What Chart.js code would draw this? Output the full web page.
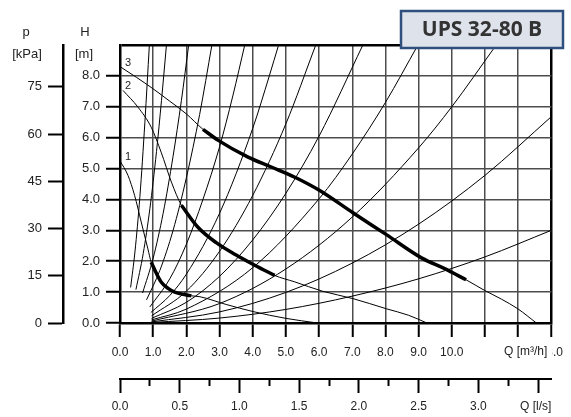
<!DOCTYPE html>
<html>
<head>
<meta charset="utf-8">
<script src="https://cdn.jsdelivr.net/npm/chart.js@4.4.1/dist/chart.umd.min.js"></script>
<style>
  html, body { margin: 0; padding: 0; background: #fff; }
</style>
</head>
<body>
<canvas id="pump" width="571" height="417"></canvas>
<script>
(function() {
  "use strict";

  // axis ticks
  const flowTicks = [0, 1, 2, 3, 4, 5, 6, 7, 8, 9, 10, 11, 12, 13];      // m3/h
  const headTicks = [0, 1, 2, 3, 4, 5, 6, 7, 8, 9];                      // m
  const kpaTicks = [0, 15, 30, 45, 60, 75];                              // kPa
  const lpsTicks = [0, 0.25, 0.5, 0.75, 1, 1.25, 1.5, 1.75, 2, 2.25, 2.5,
                    2.75, 3, 3.25, 3.5];                                 // l/s

  // pump curves, speed 1..3 : [Q m3/h, H m]
  const speed1 = [[0, 5.25], [0.24, 4.78], [0.44, 4.13], [0.64, 3.27], [0.84, 2.4], [0.94, 1.97],
                  [1.1, 1.6], [1.24, 1.33], [1.45, 1.12], [1.65, 1.0], [2.05, 0.9], [2.15, 0.88],
                  [2.41, 0.85], [3.2, 0.6], [4.01, 0.37], [5.0, 0.15], [5.95, 0]];
  const speed1Bold = [[0.94, 1.97], [1.1, 1.6], [1.24, 1.33], [1.45, 1.12], [1.65, 1.0], [2.05, 0.9], [2.15, 0.88]];

  const speed2 = [[0.09, 7.53], [0.54, 6.99], [0.94, 6.34], [1.24, 5.53], [1.55, 4.56], [1.85, 3.81],
                  [2.35, 3.1], [2.9, 2.6], [3.5, 2.2], [4.06, 1.87], [4.66, 1.54], [5.27, 1.33],
                  [6.1, 1.03], [7.02, 0.79], [8.03, 0.46], [8.7, 0.25], [9.25, 0]];
  const speed2Bold = [[1.85, 3.81], [2.35, 3.1], [2.9, 2.6], [3.5, 2.2], [4.06, 1.87], [4.66, 1.54]];

  const speed3 = [[0, 8.3], [0.5, 7.95], [1.0, 7.58], [1.5, 7.18], [2.0, 6.77], [2.5, 6.27],
                  [2.95, 5.92], [3.86, 5.37], [4.56, 5.05], [5.27, 4.72], [6.02, 4.29], [7.02, 3.57],
                  [8.03, 2.86], [9.1, 2.1], [9.8, 1.75], [10.43, 1.4], [10.98, 1.06], [11.5, 0.77],
                  [11.99, 0.46], [12.55, 0]];
  const speed3Bold = [[2.5, 6.27], [2.95, 5.92], [3.86, 5.37], [4.56, 5.05], [5.27, 4.72], [6.02, 4.29],
                      [7.02, 3.57], [8.03, 2.86], [9.1, 2.1], [9.8, 1.75], [10.43, 1.4]];

  // system curves fanning out from low flow
  const fanA = [[0.32, 1.15], [0.45, 2.3], [0.6, 4.1], [0.75, 6.5], [0.885, 9]];
  const fanB = [[0.48, 1.08], [0.7, 2.25], [0.9, 3.7], [1.1, 5.55], [1.25, 7.2], [1.4, 9]];
  const fanC = [[0.68, 0.97], [1.0, 2.1], [1.3, 3.55], [1.6, 5.4], [1.85, 7.2], [2.07, 9]];
  const fanD = [[0.8, 0.75], [1.2, 1.7], [1.6, 3.0], [2.0, 4.7], [2.4, 6.75], [2.77, 9]];
  const fanE = [[0.9, 0.52], [1.5, 1.43], [2.0, 2.55], [2.5, 4.0], [3.0, 5.7], [3.4, 7.35], [3.76, 9]];
  const fanF = [[0.93, 0.34], [1.5, 0.89], [2.0, 1.58], [3.0, 3.55], [4.0, 6.3], [4.5, 8.0], [4.78, 9]];
  const fanG = [[0.95, 0.23], [2.0, 1.03], [3.0, 2.32], [4.0, 4.13], [5.0, 6.45], [5.9, 9]];
  const fanH = [[0.95, 0.15], [2.0, 0.67], [3.0, 1.51], [4.0, 2.69], [5.0, 4.2], [6.0, 6.05], [7.32, 9]];
  const fanI = [[0.95, 0.1], [2.0, 0.45], [4.0, 1.79], [6.0, 4.02], [7.0, 5.47], [8.0, 7.14], [8.98, 9]];
  const fanJ = [[0.95, 0.06], [3.0, 0.63], [5.0, 1.75], [7.0, 3.43], [9.0, 5.67], [10.0, 7.0], [11.3, 8.94]];
  const fanK = [[0.95, 0.035], [3.0, 0.36], [5.0, 0.99], [7.0, 1.94], [9.0, 3.2], [11.0, 4.78], [13.0, 6.68]];
  const fanL = [[0.95, 0.016], [3.0, 0.16], [5.0, 0.44], [7.0, 0.87], [9.0, 1.43], [11.0, 2.14], [13.0, 3.0]];
  const fanCurves = [fanA, fanB, fanC, fanD, fanE, fanF, fanG, fanH, fanI, fanJ, fanK, fanL];

  const M3H_PER_LPS = 3.6;
  const KPA_PER_M = 9.81;
  const axisFont = { family: '"Liberation Sans", Arial, sans-serif', size: 12 };

  function pts(arr) {
    return arr.map(function(p) { return { x: p[0], y: p[1] }; });
  }

  function thin(arr) {
    return {
      data: pts(arr), showLine: true, pointRadius: 0, borderColor: '#000',
      borderWidth: 1, cubicInterpolationMode: 'monotone', order: 1
    };
  }

  function bold(arr) {
    return {
      data: pts(arr), showLine: true, pointRadius: 0, borderColor: '#000',
      borderWidth: 3.5, borderCapStyle: 'butt', cubicInterpolationMode: 'monotone', order: 0
    };
  }

  let datasets = fanCurves.map(thin);
  datasets.push(thin(speed1), thin(speed2), thin(speed3));
  datasets.push(bold(speed1Bold), bold(speed2Bold), bold(speed3Bold));

  function isMajor(v) {
    return Math.abs(v * 2 - Math.round(v * 2)) < 1e-9;
  }

  const decorations = {
    id: 'decorations',
    afterDraw: function(chart) {
      const ctx = chart.ctx;
      const x = chart.scales.x;
      const y = chart.scales.y;
      const lps = chart.scales.lps;
      ctx.save();

      // axis headers
      ctx.fillStyle = '#222';
      ctx.font = '13px "Liberation Sans", Arial, sans-serif';
      ctx.textAlign = 'center';
      ctx.textBaseline = 'middle';
      ctx.fillText('p', 26, 32);
      ctx.fillText('[kPa]', 27, 54);
      ctx.fillText('H', 85, 32);
      ctx.fillText('[m]', 84, 54);

      // speed numbers
      ctx.font = '11px "Liberation Sans", Arial, sans-serif';
      ctx.textAlign = 'left';
      ctx.textBaseline = 'alphabetic';
      [[speed1, '1'], [speed2, '2'], [speed3, '3']].forEach(function(c) {
        ctx.fillText(c[1], x.left + 5, y.getPixelForValue(c[0][0][1]) - 1);
      });

      // flow axis names
      ctx.font = '12px "Liberation Sans", Arial, sans-serif';
      ctx.textAlign = 'right';
      ctx.fillStyle = '#fff';
      ctx.fillRect(488, x.top + 20, x.right - 487, 20);
      ctx.fillStyle = '#222';
      ctx.textBaseline = 'middle';
      ctx.fillText('Q [m\u00b3/h]', x.right - 4, 352);
      ctx.fillText('Q [l/s]', lps.right, 407);

      // model label
      ctx.fillStyle = '#dee2eb';
      ctx.fillRect(401, 11, 162, 37);
      ctx.strokeStyle = '#2f4f7e';
      ctx.lineWidth = 2.5;
      ctx.strokeRect(401, 11, 162, 37);
      ctx.fillStyle = '#333';
      ctx.font = 'bold 21px "Open Sans", "DejaVu Sans", sans-serif';
      ctx.textAlign = 'center';
      ctx.fillText('UPS 32-80 B', 482, 30);
      ctx.restore();
    }
  };

  new Chart(document.getElementById('pump'), {
    type: 'scatter',
    data: { datasets: datasets },
    plugins: [decorations],
    options: {
      responsive: false,
      animation: false,
      layout: { padding: { left: 0, top: 45, right: 19, bottom: 0 } },
      plugins: { legend: { display: false }, tooltip: { enabled: false } },
      scales: {
        x: {
          type: 'linear', position: 'bottom', min: 0, max: 13, weight: 0,
          afterBuildTicks: function(s) { s.ticks = flowTicks.map(function(v) { return { value: v }; }); },
          afterFit: function(s) { s.height = 56; },
          grid: {
            color: function(c) { return c.tick && c.tick.value === 13 ? '#000' : '#4d4d4d'; },
            lineWidth: function(c) { return c.tick && c.tick.value === 13 ? 2.5 : 1.5; },
            tickColor: '#000', tickWidth: 2, tickLength: 14
          },
          border: { color: '#000', width: 2.5 },
          ticks: {
            autoSkip: false, maxRotation: 0, padding: 8, color: '#222', font: axisFont,
            callback: function(v) { return (v === 11 || v === 12) ? '' : v.toFixed(1); }
          }
        },
        lps: {
          type: 'linear', position: 'bottom', min: 0, max: 13 / M3H_PER_LPS, weight: 1,
          afterBuildTicks: function(s) { s.ticks = lpsTicks.map(function(v) { return { value: v }; }); },
          afterFit: function(s) { s.height = 38; },
          grid: {
            drawOnChartArea: false, color: '#000', tickColor: '#000', tickWidth: 2, tickLength: 14,
            tickBorderDash: function(c) { return c.tick && isMajor(c.tick.value) ? [] : [6, 40]; }
          },
          border: { color: '#000', width: 2 },
          ticks: {
            autoSkip: false, maxRotation: 0, padding: 6, color: '#222', font: axisFont,
            callback: function(v) { return (isMajor(v) && v <= 3) ? v.toFixed(1) : ''; }
          }
        },
        y: {
          type: 'linear', position: 'left', min: 0, max: 9, weight: 0,
          afterBuildTicks: function(s) { s.ticks = headTicks.map(function(v) { return { value: v }; }); },
          afterFit: function(s) { s.width = 57; },
          grid: {
            color: function(c) { return c.tick && c.tick.value === 9 ? '#000' : '#4d4d4d'; },
            lineWidth: function(c) { return c.tick && c.tick.value === 9 ? 2.5 : 1.5; },
            tickColor: function(c) { return c.tick && c.tick.value === 9 ? 'rgba(0,0,0,0)' : '#000'; },
            tickWidth: 2, tickLength: 14
          },
          border: { color: '#000', width: 2.5 },
          ticks: {
            padding: 6, color: '#222', font: { family: axisFont.family, size: 13 },
            callback: function(v) { return v === 9 ? '' : v.toFixed(1); }
          }
        },
        kpa: {
          type: 'linear', position: 'left', min: 0, max: 9 * KPA_PER_M, weight: 1,
          afterBuildTicks: function(s) { s.ticks = kpaTicks.map(function(v) { return { value: v }; }); },
          afterFit: function(s) { s.width = 63; },
          grid: { drawOnChartArea: false, color: '#000', tickColor: '#000', tickWidth: 2, tickLength: 15 },
          border: { color: '#000', width: 2.5 },
          ticks: {
            padding: 6, color: '#222', font: { family: axisFont.family, size: 13 },
            callback: function(v) { return String(v); }
          }
        }
      }
    }
  });
})();
</script>
</body>
</html>
